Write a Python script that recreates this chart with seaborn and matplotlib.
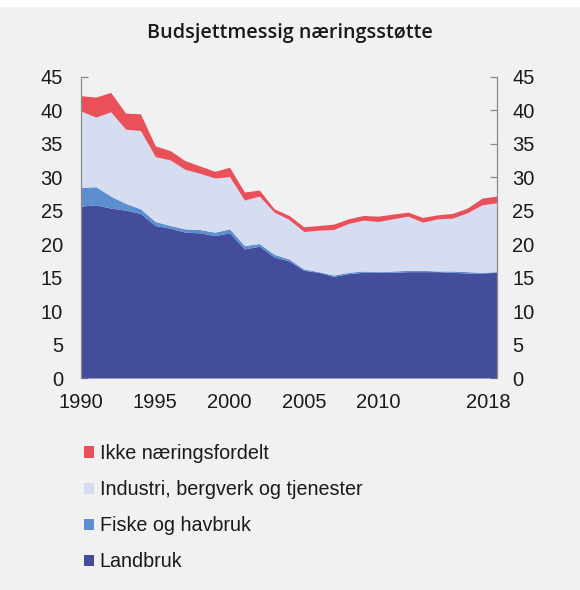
import numpy as np
import pandas as pd
import matplotlib
matplotlib.use("Agg")
import matplotlib.pyplot as plt
import matplotlib.transforms as mtransforms
from matplotlib.patches import Patch, Rectangle
import seaborn as sns

years = list(range(1990, 2019))
landbruk = [25.7, 25.9, 25.4, 25.1, 24.6, 22.8, 22.4, 21.8, 21.7, 21.3,
            21.7, 19.3, 19.7, 18.1, 17.5, 16.1, 15.8, 15.2, 15.6, 15.8,
            15.8, 15.8, 15.9, 15.9, 15.9, 15.8, 15.7, 15.7, 15.8]
fiske = [2.8, 2.7, 1.8, 1.0, 0.7, 0.6, 0.4, 0.5, 0.5, 0.5,
         0.6, 0.5, 0.4, 0.4, 0.3, 0.2, 0.1, 0.2, 0.2, 0.2,
         0.1, 0.2, 0.2, 0.2, 0.1, 0.2, 0.2, 0.1, 0.1]
industri = [11.4, 10.4, 12.6, 11.1, 11.7, 9.7, 9.8, 8.9, 8.4, 8.1,
            7.8, 6.8, 7.1, 6.3, 5.9, 5.6, 6.2, 6.8, 7.3, 7.6,
            7.5, 7.8, 8.1, 7.2, 7.8, 7.9, 8.8, 10.1, 10.3]
ikke = [2.3, 3.0, 2.9, 2.4, 2.5, 1.6, 1.4, 1.3, 1.1, 1.0,
        1.4, 1.2, 0.9, 0.5, 0.6, 0.7, 0.7, 0.8, 0.7, 0.7,
        0.8, 0.7, 0.6, 0.7, 0.6, 0.7, 0.7, 1.0, 1.0]

labels = ["Landbruk", "Fiske og havbruk", "Industri, bergverk og tjenester", "Ikke næringsfordelt"]
colors = ["#434d9c", "#5b8fd0", "#d6ddf1", "#e9505a"]
xticks = [1990, 1995, 2000, 2005, 2010, 2018]
yticks = [0, 5, 10, 15, 20, 25, 30, 35, 40, 45]

df = pd.DataFrame({"year": years, labels[0]: landbruk, labels[1]: fiske,
                   labels[2]: industri, labels[3]: ikke})

sns.set_theme(style="ticks")
bg = "#f1f1f1"
plt.rcParams["font.family"] = ["Liberation Sans", "DejaVu Sans"]

fig = plt.figure(figsize=(5.8, 5.9), dpi=100, facecolor=bg)
ax = fig.add_axes([81 / 580, 212 / 590, 416 / 580, 301 / 590])
ax.set_facecolor(bg)

ax.stackplot(df["year"], [df[l] for l in labels], colors=colors, linewidth=0)

ax.set_xlim(1990, 2018)
ax.set_ylim(0, 45)
ax.set_xticks(xticks)
ax.set_xticklabels([str(t) for t in xticks])
ax.set_yticks(yticks)

for s in ["top", "bottom"]:
    ax.spines[s].set_visible(False)
for s in ["left", "right"]:
    ax.spines[s].set_color("#8a8a8a")
    ax.spines[s].set_linewidth(0.9)

ax.tick_params(axis="y", which="both", direction="in", length=5, width=0.9,
               color="#8a8a8a", labelsize=14.5, labelcolor="#1a1a1a",
               left=True, right=True, labelleft=True, labelright=True)
ax.tick_params(axis="y", pad=13)
ax.tick_params(axis="x", length=0, labelsize=14.5, labelcolor="#1a1a1a", pad=11)
for t in ax.yaxis.get_major_ticks():
    t.label2.set_transform(t.label2.get_transform() +
                           mtransforms.ScaledTranslation(-2 / 72, 0, fig.dpi_scale_trans))
last = ax.xaxis.get_major_ticks()[-1]
last.label1.set_transform(last.label1.get_transform() +
                          mtransforms.ScaledTranslation(-9 / 100, 0, fig.dpi_scale_trans))

fig.text(0.5, 1 - 33 / 590, "Budsjettmessig næringsstøtte", ha="center", va="center",
         fontsize=14.2, fontweight="semibold", family=["Open Sans", "DejaVu Sans"],
         color="#1a1a1a")

# white strip at top
fig.patches.append(Rectangle((0, 1 - 7 / 590), 1, 7 / 590, transform=fig.transFigure,
                             facecolor="white", edgecolor="none", zorder=-1))

handles = [Patch(facecolor=c, edgecolor="none") for c in colors][::-1]
leg = fig.legend(handles, labels[::-1], loc="upper left",
                 bbox_to_anchor=(84 / 580, 1 - 444 / 590), frameon=False,
                 fontsize=14.2, handlelength=0.5, handleheight=0.5,
                 handletextpad=0.3, labelspacing=0.87, borderaxespad=0,
                 borderpad=0)
for t in leg.get_texts():
    t.set_color("#1a1a1a")

fig.savefig("out.png", dpi=100, facecolor=bg)
